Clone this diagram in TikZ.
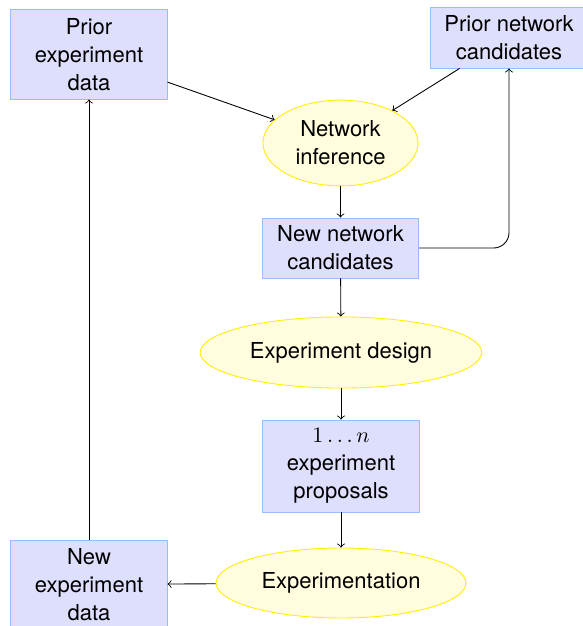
\documentclass[tikz,border=0pt]{standalone}
\usepackage{fontspec}
\setmainfont{TeX Gyre Heros}
\usetikzlibrary{shapes.geometric}
\definecolor{boxfill}{RGB}{222,222,253}
\definecolor{boxdraw}{RGB}{150,190,255}
\definecolor{ellfill}{RGB}{255,253,222}
\definecolor{elldraw}{RGB}{255,238,0}
\begin{document}
\begin{tikzpicture}[x=0.4545pt,y=-0.4545pt,
  every node/.style={font=\fontsize{10}{12.7}\selectfont, align=center, inner sep=0pt},
  block/.style={rectangle, draw=boxdraw, fill=boxfill, line width=0.4pt, minimum width=71pt},
  cloud/.style={ellipse, draw=elldraw, fill=ellfill, line width=0.4pt},
  conn/.style={->, line width=0.4pt, black}]
\useasboundingbox (0,0) rectangle (582,626);
\node[block, minimum height=40.5pt] (ped) at (89,54.5) {Prior\\experiment\\data};
\node[block, minimum height=27.7pt] (pnc) at (509,37.5) {Prior network\\candidates};
\node[cloud, minimum width=70.5pt, minimum height=39pt] (ni) at (340.5,143) {Network\\inference};
\node[block, minimum height=27.3pt] (nnc) at (340.5,248) {New network\\candidates};
\node[cloud, minimum width=128pt, minimum height=32.3pt] (ed) at (341,352.5) {Experiment design};
\node[block, minimum height=41.8pt] (ep) at (341,466) {$1\ldots n$\\experiment\\proposals};
\node[cloud, minimum width=113.6pt, minimum height=31.8pt] (ex) at (341,583) {Experimentation};
\node[block, minimum height=40.5pt] (ned) at (89,584.5) {New\\experiment\\data};
\draw[conn] (ped) -- (ni);
\draw[conn] (pnc) -- (ni);
\draw[conn] (ni) -- (nnc);
\draw[conn, rounded corners=7pt] (nnc.east) -| (pnc.south);
\draw[conn] (nnc) -- (ed);
\draw[conn] (ed) -- (ep);
\draw[conn] (ep) -- (ex);
\draw[conn] (ex) -- (ned);
\draw[conn] (ned) -- (ped);
\end{tikzpicture}
\end{document}
